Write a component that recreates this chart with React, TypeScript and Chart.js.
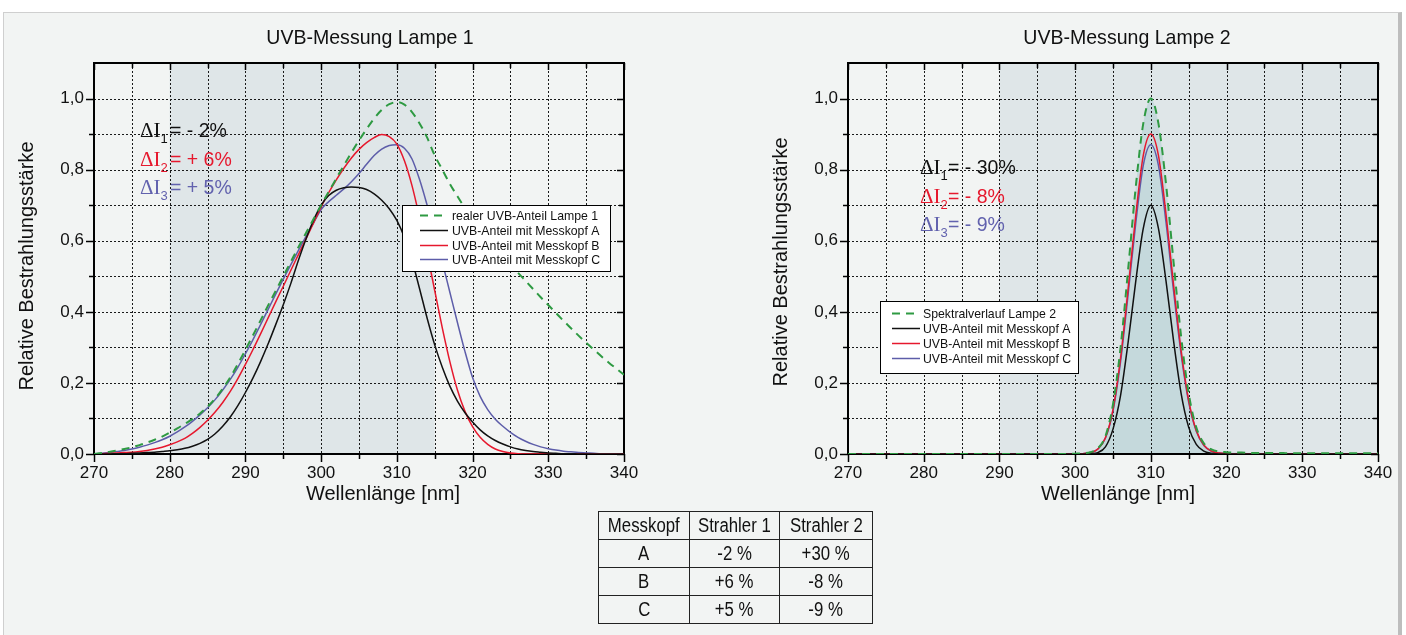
import React, { useEffect, useRef } from 'react';
import { Chart, registerables } from 'chart.js';

Chart.register(...registerables);

const SANS = '"Liberation Sans", Arial, sans-serif';
const SERIF = '"Liberation Serif", "Times New Roman", serif';

// ---------- data ----------
const wavelengthNm = [
  270, 271, 272, 273, 274, 275, 276, 277, 278, 279,
  280, 281, 282, 283, 284, 285, 286, 287, 288, 289,
  290, 291, 292, 293, 294, 295, 296, 297, 298, 299,
  300, 301, 302, 303, 304, 305, 306, 307, 308, 309,
  310, 311, 312, 313, 314, 315, 316, 317, 318, 319,
  320, 321, 322, 323, 324, 325, 326, 327, 328, 329,
  330, 331, 332, 333, 334, 335, 336, 337, 338, 339,
  340,
];

// Lampe 1
const lamp1Real = [
  0.000, 0.003, 0.006, 0.010, 0.014, 0.019, 0.025, 0.032, 0.040, 0.049,
  0.060, 0.072, 0.085, 0.098, 0.114, 0.133, 0.156, 0.184, 0.216, 0.253,
  0.293, 0.334, 0.376, 0.418, 0.459, 0.500, 0.541, 0.582, 0.622, 0.661,
  0.700, 0.738, 0.775, 0.812, 0.848, 0.882, 0.914, 0.944, 0.968, 0.984,
  0.990, 0.983, 0.962, 0.930, 0.890, 0.840, 0.800, 0.760, 0.725, 0.692,
  0.662, 0.635, 0.608, 0.583, 0.558, 0.534, 0.510, 0.487, 0.464, 0.441,
  0.419, 0.397, 0.375, 0.354, 0.333, 0.313, 0.294, 0.275, 0.257, 0.240,
  0.223,
];
const lamp1HeadA = [
  0.000, 0.000, 0.000, 0.001, 0.001, 0.002, 0.003, 0.004, 0.005, 0.007,
  0.009, 0.012, 0.016, 0.022, 0.030, 0.041, 0.057, 0.078, 0.104, 0.136,
  0.173, 0.214, 0.260, 0.310, 0.364, 0.420, 0.480, 0.545, 0.605, 0.658,
  0.700, 0.727, 0.742, 0.749, 0.751, 0.750, 0.744, 0.732, 0.714, 0.690,
  0.657, 0.609, 0.545, 0.465, 0.382, 0.307, 0.244, 0.191, 0.149, 0.116,
  0.090, 0.068, 0.051, 0.038, 0.028, 0.020, 0.014, 0.010, 0.007, 0.005,
  0.003, 0.002, 0.001, 0.001, 0.000, 0.000, 0.000, 0.000, 0.000, 0.000,
  0.000,
];
const lamp1HeadB = [
  0.000, 0.001, 0.002, 0.003, 0.004, 0.005, 0.007, 0.010, 0.014, 0.019,
  0.026, 0.034, 0.044, 0.058, 0.075, 0.095, 0.118, 0.145, 0.176, 0.212,
  0.252, 0.294, 0.338, 0.383, 0.428, 0.472, 0.517, 0.561, 0.605, 0.650,
  0.695, 0.735, 0.771, 0.804, 0.833, 0.857, 0.876, 0.890, 0.899, 0.893,
  0.872, 0.825, 0.755, 0.665, 0.565, 0.460, 0.355, 0.260, 0.180, 0.120,
  0.077, 0.047, 0.027, 0.014, 0.007, 0.003, 0.001, 0.000, 0.000, 0.000,
  0.000, 0.000, 0.000, 0.000, 0.000, 0.000, 0.000, 0.000, 0.000, 0.000,
  0.000,
];
const lamp1HeadC = [
  0.000, 0.002, 0.004, 0.007, 0.010, 0.014, 0.019, 0.025, 0.032, 0.040,
  0.050, 0.062, 0.076, 0.092, 0.110, 0.130, 0.153, 0.180, 0.210, 0.244,
  0.282, 0.322, 0.364, 0.407, 0.450, 0.492, 0.533, 0.573, 0.612, 0.650,
  0.688, 0.710, 0.728, 0.746, 0.766, 0.789, 0.815, 0.840, 0.858, 0.868,
  0.870, 0.860, 0.830, 0.772, 0.700, 0.622, 0.540, 0.455, 0.370, 0.288,
  0.215, 0.162, 0.125, 0.098, 0.078, 0.061, 0.047, 0.036, 0.027, 0.020,
  0.015, 0.011, 0.008, 0.006, 0.004, 0.003, 0.002, 0.001, 0.001, 0.000,
  0.000,
];

// Lampe 2
const lamp2Spectrum = [
  0, 0, 0, 0, 0, 0, 0, 0, 0, 0,
  0, 0, 0, 0, 0, 0, 0, 0, 0, 0,
  0, 0, 0, 0, 0, 0, 0, 0, 0, 0,
  0.001, 0.002, 0.005, 0.016, 0.050, 0.140, 0.300, 0.520, 0.750, 0.930,
  1.000, 0.930, 0.760, 0.540, 0.330, 0.170, 0.075, 0.030, 0.013, 0.007,
  0.005, 0.004, 0.004, 0.003, 0.003, 0.003, 0.003, 0.003, 0.002, 0.002,
  0.002, 0.002, 0.002, 0.002, 0.002, 0.002, 0.002, 0.002, 0.002, 0.002,
  0.002,
];
const lamp2HeadA = [
  0, 0, 0, 0, 0, 0, 0, 0, 0, 0,
  0, 0, 0, 0, 0, 0, 0, 0, 0, 0,
  0, 0, 0, 0, 0, 0, 0, 0, 0, 0,
  0.000, 0.000, 0.001, 0.004, 0.020, 0.070, 0.165, 0.315, 0.485, 0.635,
  0.700, 0.635, 0.487, 0.318, 0.170, 0.075, 0.027, 0.008, 0.002, 0.000,
  0, 0, 0, 0, 0, 0, 0, 0, 0, 0,
  0, 0, 0, 0, 0, 0, 0, 0, 0, 0,
  0,
];
const lamp2HeadB = [
  0, 0, 0, 0, 0, 0, 0, 0, 0, 0,
  0, 0, 0, 0, 0, 0, 0, 0, 0, 0,
  0, 0, 0, 0, 0, 0, 0, 0, 0, 0,
  0.000, 0.001, 0.004, 0.014, 0.046, 0.125, 0.270, 0.465, 0.670, 0.840,
  0.900, 0.840, 0.675, 0.475, 0.290, 0.150, 0.066, 0.025, 0.008, 0.003,
  0.001, 0, 0, 0, 0, 0, 0, 0, 0, 0,
  0, 0, 0, 0, 0, 0, 0, 0, 0, 0,
  0,
];
const lamp2HeadC = [
  0, 0, 0, 0, 0, 0, 0, 0, 0, 0,
  0, 0, 0, 0, 0, 0, 0, 0, 0, 0,
  0, 0, 0, 0, 0, 0, 0, 0, 0, 0,
  0.000, 0.001, 0.004, 0.014, 0.045, 0.121, 0.260, 0.450, 0.648, 0.812,
  0.870, 0.812, 0.652, 0.458, 0.280, 0.145, 0.064, 0.024, 0.008, 0.003,
  0.001, 0, 0, 0, 0, 0, 0, 0, 0, 0,
  0, 0, 0, 0, 0, 0, 0, 0, 0, 0,
  0,
];

// axis ticks / grid
const xGridNm = [270, 275, 280, 285, 290, 295, 300, 305, 310, 315, 320, 325, 330, 335, 340];
const xMajorNm = [270, 280, 290, 300, 310, 320, 330, 340];
const yGridVals = [0, 0.1, 0.2, 0.3, 0.4, 0.5, 0.6, 0.7, 0.8, 0.9, 1.0, 1.1];
const yMajorVals = [0, 0.2, 0.4, 0.6, 0.8, 1.0];

// labels
const legend1Labels = ['realer UVB-Anteil Lampe 1', 'UVB-Anteil mit Messkopf A', 'UVB-Anteil mit Messkopf B', 'UVB-Anteil mit Messkopf C'];
const legend2Labels = ['Spektralverlauf Lampe 2', 'UVB-Anteil mit Messkopf A', 'UVB-Anteil mit Messkopf B', 'UVB-Anteil mit Messkopf C'];
const delta1Texts = ['= - 2%', '= + 6%', '= + 5%'];
const delta2Texts = ['= - 30%', '= - 8%', '= - 9%'];

const tableHeader = ['Messkopf', 'Strahler 1', 'Strahler 2'];
const tableHeads = ['A', 'B', 'C'];
const tableStrahler1 = ['-2 %', '+6 %', '+5 %'];
const tableStrahler2 = ['+30 %', '-8 %', '-9 %'];

const C_GREEN = '#2e9a42';
const C_BLACK = '#111111';
const C_RED = '#e6182d';
const C_PURPLE = '#5d5da9';
const deltaColors = [C_BLACK, C_RED, '#6262ae'];
const seriesColors = [C_GREEN, C_BLACK, C_RED, C_PURPLE];

type Spec = {
  title: string;
  series: number[][];
  legendLabels: string[];
  deltaTexts: string[];
  shade: [number, number];
  fillFirst: boolean;
  yAxisWidth: number;
  padRight: number;
  titleX: number;
  xTitleX: number;
  yTitleX: number;
  yTitleY: number;
  legend: { x: number; y: number; w: number; h: number; row0: number; step: number; l0: number; l1: number; tx: number };
  delta: { x: number; y0: number; step: number; off: number };
};

function condensedText(ctx: any, text: string, x: number, y: number, sx: number) {
  ctx.save();
  ctx.translate(x, y);
  ctx.scale(sx, 1);
  ctx.fillText(text, 0, 0);
  ctx.restore();
}

function makePlugin(spec: Spec) {
  return {
    id: 'decor',
    beforeDraw(chart: any) {
      const { ctx, chartArea: a, scales } = chart;
      const x = scales.x;
      const x0 = x.getPixelForValue(spec.shade[0]);
      const x1 = x.getPixelForValue(spec.shade[1]);
      ctx.save();
      ctx.fillStyle = '#dfe6e8';
      ctx.fillRect(x0, a.top, x1 - x0, a.bottom - a.top);
      ctx.restore();
    },
    beforeDatasetsDraw(chart: any) {
      const { ctx, chartArea: a, scales } = chart;
      const x = scales.x;
      const y = scales.y;
      ctx.save();
      ctx.strokeStyle = '#1a1a1a';
      ctx.lineWidth = 1;
      ctx.setLineDash([2, 2]);
      xGridNm.forEach((v) => {
        if (v <= 270 || v >= 340) return;
        const px = Math.round(x.getPixelForValue(v)) + 0.5;
        ctx.beginPath();
        ctx.moveTo(px, a.top);
        ctx.lineTo(px, a.bottom);
        ctx.stroke();
      });
      yGridVals.forEach((v) => {
        if (v <= 0 || v >= 1.1) return;
        const py = Math.round(y.getPixelForValue(v)) + 0.5;
        ctx.beginPath();
        ctx.moveTo(a.left, py);
        ctx.lineTo(a.right, py);
        ctx.stroke();
      });
      ctx.setLineDash([]);
      ctx.strokeStyle = '#000';
      ctx.lineWidth = 1.5;
      xGridNm.forEach((v) => {
        const px = Math.round(x.getPixelForValue(v)) + 0.5;
        const major = xMajorNm.includes(v);
        ctx.beginPath();
        ctx.moveTo(px, a.bottom);
        ctx.lineTo(px, a.bottom + (major ? 8 : 5));
        ctx.moveTo(px, a.top);
        ctx.lineTo(px, a.top + (major ? 7 : 5));
        ctx.stroke();
      });
      yGridVals.forEach((v) => {
        if (v > 1.05) return;
        const py = Math.round(y.getPixelForValue(v)) + 0.5;
        const major = yMajorVals.some((m) => Math.abs(m - v) < 1e-6);
        ctx.beginPath();
        ctx.moveTo(a.left, py);
        ctx.lineTo(a.left - (major ? 8 : 5), py);
        ctx.moveTo(a.right, py);
        ctx.lineTo(a.right - (major ? 7 : 5), py);
        ctx.stroke();
      });
      ctx.lineWidth = 2;
      ctx.strokeRect(a.left, a.top, a.right - a.left, a.bottom - a.top);
      ctx.restore();
    },
    afterDraw(chart: any) {
      const { ctx } = chart;
      ctx.save();
      ctx.fillStyle = '#111';
      ctx.textAlign = 'center';
      ctx.textBaseline = 'alphabetic';
      ctx.font = `21px ${SANS}`;
      condensedText(ctx, spec.title, spec.titleX, 44, 0.93);
      ctx.font = `20px ${SANS}`;
      ctx.fillText('Wellenlänge [nm]', spec.xTitleX, 500);
      ctx.save();
      ctx.translate(spec.yTitleX, spec.yTitleY);
      ctx.rotate(-Math.PI / 2);
      ctx.fillText('Relative Bestrahlungsstärke', 0, 0);
      ctx.restore();

      // legend
      const lg = spec.legend;
      ctx.fillStyle = '#ffffff';
      ctx.fillRect(lg.x, lg.y, lg.w, lg.h);
      ctx.strokeStyle = '#000';
      ctx.lineWidth = 1;
      ctx.strokeRect(lg.x + 0.5, lg.y + 0.5, lg.w, lg.h);
      ctx.textAlign = 'left';
      ctx.textBaseline = 'middle';
      ctx.font = `13.5px ${SANS}`;
      spec.legendLabels.forEach((label, i) => {
        const cy = Math.round(lg.y + lg.row0 + i * lg.step) + 0.5;
        ctx.strokeStyle = seriesColors[i];
        ctx.lineWidth = i === 0 ? 2 : 1.5;
        ctx.setLineDash(i === 0 ? [8, 6] : []);
        ctx.beginPath();
        ctx.moveTo(lg.x + lg.l0, cy);
        ctx.lineTo(lg.x + lg.l1, cy);
        ctx.stroke();
        ctx.setLineDash([]);
        ctx.fillStyle = '#111';
        condensedText(ctx, label, lg.x + lg.tx, cy + 0.5, 0.91);
      });

      // delta annotations
      const d = spec.delta;
      ctx.textBaseline = 'alphabetic';
      spec.deltaTexts.forEach((t, i) => {
        const by = d.y0 + i * d.step;
        ctx.fillStyle = deltaColors[i];
        ctx.font = `21px ${SERIF}`;
        ctx.fillText('\u0394I', d.x, by);
        const w = ctx.measureText('\u0394I').width;
        ctx.font = `13px ${SANS}`;
        ctx.fillText(String(i + 1), d.x + w, by + 6);
        ctx.font = `19.5px ${SANS}`;
        ctx.fillText(t, d.x + d.off, by);
      });
      ctx.restore();
    },
  };
}

function buildConfig(spec: Spec): any {
  const datasets = spec.series.map((vals, i) => ({
    label: spec.legendLabels[i],
    data: wavelengthNm.map((w, k) => ({ x: w, y: vals[k] })),
    borderColor: seriesColors[i],
    borderWidth: i === 0 ? 2 : 1.5,
    borderDash: i === 0 ? [8, 6] : [],
    pointRadius: 0,
    cubicInterpolationMode: 'monotone',
    fill: i === 0 && spec.fillFirst ? 'origin' : false,
    backgroundColor: i === 0 && spec.fillFirst ? '#c5d9dc' : 'rgba(0,0,0,0)',
  }));
  return {
    type: 'line',
    data: { datasets },
    options: {
      responsive: false,
      animation: false,
      events: [],
      layout: { padding: { left: 0, right: spec.padRight, top: 63, bottom: 46 } },
      plugins: {
        legend: { display: false },
        title: { display: false },
        tooltip: { enabled: false },
        filler: { drawTime: 'beforeDatasetsDraw' },
      },
      scales: {
        x: {
          type: 'linear',
          min: 270,
          max: 340,
          grid: { display: false, drawTicks: false },
          border: { display: false },
          ticks: {
            stepSize: 10,
            padding: 9,
            color: '#111',
            autoSkip: false,
            maxRotation: 0,
            font: { family: SANS, size: 17 },
          },
          afterFit: (s: any) => {
            s.height = 40;
          },
        },
        y: {
          type: 'linear',
          min: 0,
          max: 1.1,
          grid: { display: false, drawTicks: false },
          border: { display: false },
          ticks: {
            stepSize: 0.2,
            padding: 10,
            color: '#111',
            font: { family: SANS, size: 17 },
            callback: (v: number) => (v > 1.05 ? '' : Number(v).toFixed(1).replace('.', ',')),
          },
          afterFit: (s: any) => {
            s.width = spec.yAxisWidth;
          },
        },
      },
    },
    plugins: [makePlugin(spec)],
  };
}

const spec1: Spec = {
  title: 'UVB-Messung Lampe 1',
  series: [lamp1Real, lamp1HeadA, lamp1HeadB, lamp1HeadC],
  legendLabels: legend1Labels,
  deltaTexts: delta1Texts,
  shade: [280, 315],
  fillFirst: false,
  yAxisWidth: 94,
  padRight: 96,
  titleX: 370,
  xTitleX: 383,
  yTitleX: 33,
  yTitleY: 266,
  legend: { x: 402, y: 205, w: 208, h: 66, row0: 10, step: 14.8, l0: 18, l1: 46, tx: 50 },
  delta: { x: 140, y0: 137, step: 28.5, off: 30 },
};

const spec2: Spec = {
  title: 'UVB-Messung Lampe 2',
  series: [lamp2Spectrum, lamp2HeadA, lamp2HeadB, lamp2HeadC],
  legendLabels: legend2Labels,
  deltaTexts: delta2Texts,
  shade: [290, 340],
  fillFirst: true,
  yAxisWidth: 128,
  padRight: 28,
  titleX: 407,
  xTitleX: 398,
  yTitleX: 67,
  yTitleY: 262,
  legend: { x: 160, y: 301, w: 198, h: 72, row0: 12, step: 15, l0: 12, l1: 40, tx: 43 },
  delta: { x: 200, y0: 174, step: 28.5, off: 28 },
};

function ChartCanvas({ spec, left, width, height }: { spec: Spec; left: number; width: number; height: number }) {
  const ref = useRef<HTMLCanvasElement | null>(null);
  useEffect(() => {
    if (!ref.current) return;
    const chart = new Chart(ref.current, buildConfig(spec));
    return () => chart.destroy();
  }, [spec]);
  return (
    <canvas
      ref={ref}
      width={width}
      height={height}
      style={{ position: 'absolute', left, top: 0, width, height }}
    />
  );
}

const cellStyle: React.CSSProperties = {
  border: '1px solid #222',
  textAlign: 'center',
  verticalAlign: 'middle',
  padding: 0,
  height: 27,
  overflow: 'hidden',
  whiteSpace: 'nowrap',
};

function Cell({ text }: { text: string }) {
  return (
    <td style={cellStyle}>
      <span style={{ display: 'inline-block', transform: 'scaleX(0.84)', transformOrigin: 'center' }}>{text}</span>
    </td>
  );
}

export default function App() {
  const rows = tableHeads.map((h, i) => [h, tableStrahler1[i], tableStrahler2[i]]);
  return (
    <div style={{ position: 'absolute', left: 0, top: 0, width: 1406, height: 635, overflow: 'hidden', background: '#ffffff' }}>
      <div
        style={{
          position: 'absolute',
          left: 3,
          top: 12,
          width: 1394,
          height: 640,
          background: '#f2f4f3',
          borderLeft: '1px solid #cfcfcf',
          borderTop: '1px solid #cfcfcf',
          borderRight: '4px solid #bdbdbd',
        }}
      />
      <ChartCanvas spec={spec1} left={0} width={720} height={540} />
      <ChartCanvas spec={spec2} left={720} width={686} height={540} />
      <table
        style={{
          position: 'absolute',
          left: 598,
          top: 511,
          width: 274,
          borderCollapse: 'collapse',
          tableLayout: 'fixed',
          fontFamily: SANS,
          fontSize: 20,
          color: '#111',
          background: 'transparent',
        }}
      >
        <colgroup>
          <col style={{ width: 91 }} />
          <col style={{ width: 90 }} />
          <col style={{ width: 93 }} />
        </colgroup>
        <tbody>
          <tr>
            {tableHeader.map((t) => (
              <Cell key={t} text={t} />
            ))}
          </tr>
          {rows.map((r, i) => (
            <tr key={i}>
              {r.map((t, j) => (
                <Cell key={j} text={t} />
              ))}
            </tr>
          ))}
        </tbody>
      </table>
    </div>
  );
}
